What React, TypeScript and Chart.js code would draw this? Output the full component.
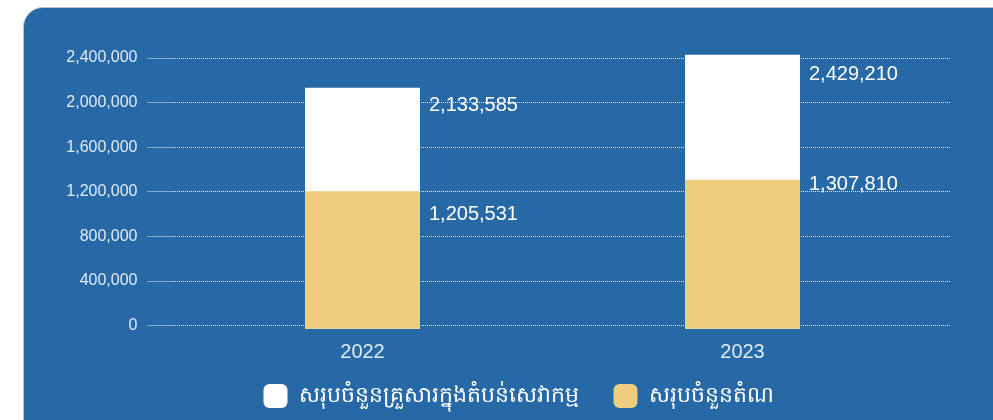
import React, { useEffect, useRef } from 'react';
import { Chart, registerables } from 'chart.js';

Chart.register(...registerables);

const categories = ['2022', '2023'];
const seriesLabels = ['សរុបចំនួនគ្រួសារក្នុងតំបន់សេវាកម្ម', 'សរុបចំនួនតំណ'];
const householdsInServiceArea = [2133585, 2429210];
const totalConnections = [1205531, 1307810];
const yTickStep = 400000;
const yMax = 2400000;

const FONT = '"Liberation Sans", Arial, "Noto Sans", sans-serif';
const BLUE = '#2769a6';
const YELLOW = '#efcd7f';
const TEXT = 'rgba(235,241,248,0.95)';
const GRID = 'rgba(255,255,255,0.85)';

// vertical nudges (px) of value labels, per dataset, per category
const labelNudges = [
  [17.5, 19.3],
  [23.6, 4.7],
];
// how far the legend row is lifted toward the axis (px)
const legendLift = 29.3;

const fmt = (v: number) => v.toLocaleString('en-US');

const valueLabels = {
  id: 'valueLabels',
  afterDatasetsDraw(chart: any) {
    const ctx = chart.ctx;
    ctx.save();
    ctx.font = `20px ${FONT}`;
    ctx.fillStyle = '#ffffff';
    ctx.textAlign = 'left';
    ctx.textBaseline = 'middle';
    chart.data.datasets.forEach((ds: any, di: number) => {
      const meta = chart.getDatasetMeta(di);
      meta.data.forEach((bar: any, i: number) => {
        const { x, y, width } = bar.getProps(['x', 'y', 'width'], true);
        ctx.fillText(fmt(ds.data[i]), x + width / 2 + 9, y + labelNudges[di][i]);
      });
    });
    ctx.restore();
  },
};

const liftLegend = {
  id: 'liftLegend',
  afterLayout(chart: any) {
    const lg = chart.legend;
    if (lg) {
      lg.top -= legendLift;
      lg.bottom -= legendLift;
    }
  },
};

export default function App() {
  const ref = useRef<HTMLCanvasElement | null>(null);

  useEffect(() => {
    if (!ref.current) return;
    const chart = new Chart(ref.current, {
      type: 'bar',
      data: {
        labels: categories,
        datasets: [
          {
            label: seriesLabels[0],
            data: householdsInServiceArea,
            backgroundColor: '#ffffff',
            borderColor: '#ffffff',
            borderWidth: 0,
            order: 1,
            grouped: false,
            clip: false,
            base: -28000,
            barPercentage: 115 / 380,
            categoryPercentage: 1,
          } as any,
          {
            label: seriesLabels[1],
            data: totalConnections,
            backgroundColor: YELLOW,
            borderColor: YELLOW,
            borderWidth: 0,
            order: 0,
            grouped: false,
            clip: false,
            base: -28000,
            barPercentage: 115 / 380,
            categoryPercentage: 1,
          } as any,
        ],
      },
      options: {
        responsive: false,
        animation: false,
        devicePixelRatio: 1,
        layout: { padding: { left: 44, right: 0, top: 58, bottom: 12.7 } },
        plugins: {
          tooltip: { enabled: false },
          title: { display: false },
          legend: {
            position: 'bottom',
            labels: {
              color: '#ffffff',
              boxWidth: 24,
              boxHeight: 24,
              useBorderRadius: true,
              borderRadius: 6,
              padding: 35,
              font: { size: 22, family: FONT },
              sort: (a: any, b: any) => a.datasetIndex - b.datasetIndex,
            } as any,
          },
        },
        scales: {
          x: {
            grid: { display: false, drawTicks: false },
            border: { display: false },
            ticks: { color: TEXT, font: { size: 20, family: FONT }, padding: 14.3 },
          },
          y: {
            min: 0,
            max: yMax,
            afterFit: (s: any) => {
              s.width = 128.5;
            },
            ticks: {
              stepSize: yTickStep,
              color: TEXT,
              font: { size: 16, family: FONT },
              padding: 10,
              callback: (v: any) => fmt(Number(v)),
            },
            grid: {
              color: GRID,
              lineWidth: 1,
              drawTicks: true,
              tickLength: 25,
              tickColor: GRID,
              tickBorderDash: [1, 1],
            },
            border: { display: false, dash: [1, 1] },
          },
          y2: {
            position: 'right',
            min: 0,
            max: yMax,
            afterFit: (s: any) => {
              s.width = 60.5;
            },
            ticks: { display: false, stepSize: yTickStep },
            grid: {
              drawOnChartArea: false,
              drawTicks: true,
              tickLength: 18,
              tickColor: GRID,
              tickBorderDash: [1, 1],
            },
            border: { display: false },
          },
        },
      } as any,
      plugins: [valueLabels, liftLegend],
    });
    return () => chart.destroy();
  }, []);

  return (
    <div style={{ position: 'fixed', left: 0, top: 0, width: 993, height: 420, overflow: 'hidden', background: '#ffffff' }}>
      <div
        style={{
          position: 'absolute',
          left: 23,
          top: 7,
          width: 1020,
          height: 460,
          borderRadius: 20,
          background: BLUE,
          border: '1px solid #b4c3d4',
        }}
      />
      <canvas ref={ref} width={993} height={460} style={{ position: 'absolute', left: 0, top: 0 }} />
    </div>
  );
}
